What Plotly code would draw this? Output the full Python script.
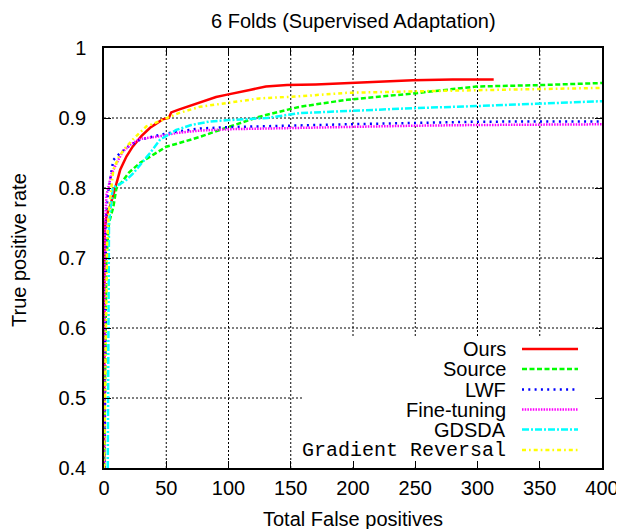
import plotly.graph_objects as go

# ---------------- data ----------------
series_names = ["Ours", "Source", "LWF", "Fine-tuning", "GDSDA", "Gradient Reversal"]
series_colors = ["#ff0000", "#00ff00", "#0000ff", "#ff00ff", "#00ffff", "#ffff00"]

ours_x = [0, 0, 0.5, 2, 5, 9, 13, 18, 23, 30, 37, 42, 47, 52, 54, 60, 70, 80, 90, 98, 110, 117, 130, 147, 170, 195, 220, 248, 280, 313]
ours_y = [0.40, 0.70, 0.74, 0.76, 0.775, 0.80, 0.826, 0.845, 0.859, 0.874, 0.886, 0.892, 0.898, 0.900, 0.908, 0.912, 0.918, 0.924, 0.930, 0.933, 0.937, 0.940, 0.945, 0.947, 0.948, 0.950, 0.952, 0.954, 0.955, 0.955]

source_x = [0, 1, 2, 4, 7.5, 10, 15, 20, 29, 40, 50, 60, 77, 98, 125, 157, 195, 248, 299, 350, 400]
source_y = [0.40, 0.60, 0.70, 0.75, 0.773, 0.80, 0.81, 0.822, 0.836, 0.848, 0.859, 0.864, 0.873, 0.886, 0.902, 0.916, 0.926, 0.935, 0.945, 0.947, 0.950]

lwf_x = [0.5, 1, 1.5, 3, 5, 7.5, 13, 20, 29, 45, 60, 77, 100, 131, 160, 195, 250, 299, 350, 400]
lwf_y = [0.40, 0.65, 0.75, 0.79, 0.81, 0.84, 0.85, 0.86, 0.869, 0.876, 0.881, 0.885, 0.887, 0.888, 0.889, 0.891, 0.893, 0.8947, 0.895, 0.895]

ft_x = [0, 0.5, 1, 2, 4, 6, 10, 15, 22, 29, 45, 60, 77, 100, 131, 160, 195, 250, 300, 350, 400]
ft_y = [0.40, 0.70, 0.754, 0.79, 0.807, 0.82, 0.835, 0.852, 0.863, 0.870, 0.874, 0.879, 0.882, 0.884, 0.885, 0.886, 0.888, 0.889, 0.890, 0.891, 0.891]

gdsda_x = [3, 3.5, 4, 7, 12, 17, 23, 30, 37, 45, 58, 70, 85, 100, 131, 157, 195, 248, 299, 350, 400]
gdsda_y = [0.40, 0.60, 0.75, 0.80, 0.805, 0.81, 0.82, 0.835, 0.85, 0.869, 0.883, 0.89, 0.895, 0.897, 0.90, 0.907, 0.91, 0.914, 0.917, 0.921, 0.924]

gr_x = [0, 1.5, 2.5, 4, 7.5, 12, 17, 23, 29, 34, 40, 47, 60, 77, 100, 125, 157, 195, 248, 300, 350, 400]
gr_y = [0.40, 0.60, 0.72, 0.77, 0.826, 0.845, 0.857, 0.869, 0.880, 0.888, 0.892, 0.897, 0.907, 0.916, 0.922, 0.928, 0.931, 0.936, 0.938, 0.940, 0.941, 0.943]

x_tickvals = [0, 50, 100, 150, 200, 250, 300, 350, 400]
x_ticktext = ["0", "50", "100", "150", "200", "250", "300", "350", "400"]
y_tickvals = [0.4, 0.5, 0.6, 0.7, 0.8, 0.9, 1.0]
y_ticktext = ["0.4", "0.5", "0.6", "0.7", "0.8", "0.9", "1"]

title_text = "6 Folds (Supervised Adaptation)"
x_title = "Total False positives"
y_title = "True positive rate"

# ---------------- styles ----------------
dashes = ["solid", "5px,2.5px", "2px,4.3px", "1.5px,1.2px", "7px,2px,2px,2px", "4px,3px,1.7px,3px"]
fonts = ["Liberation Sans"] * 5 + ["Liberation Mono"]
LW = 2.5
SANS = "Liberation Sans, Arial, Helvetica, sans-serif"
XR = [0, 400]
YR = [0.4, 1.0]

xs = [ours_x, source_x, lwf_x, ft_x, gdsda_x, gr_x]
ys = [ours_y, source_y, lwf_y, ft_y, gdsda_y, gr_y]

fig = go.Figure()
for name, c, d, x, y in zip(series_names, series_colors, dashes, xs, ys):
    fig.add_trace(go.Scatter(x=x, y=y, mode="lines", name=name,
                             line=dict(color=c, width=LW, dash=d),
                             showlegend=False, hoverinfo="skip"))

# The page has an 8px body margin, so the figure is drawn offset by (8, 8).
OFF = 8
W, H = 624 - OFF, 529 - OFF
# plot area in page pixels: x 104..602, y 48..468
PX0, PX1, PY0, PY1 = 104, 602, 48, 468
L, T = PX0 - OFF, PY0 - OFF
R, B = W - (PX1 - OFF), H - (PY1 - OFF)
pw, ph = PX1 - PX0, PY1 - PY0

def px2paper_x(px):
    return (px - PX0) / pw

def px2paper_y(py):
    return (PY1 - py) / ph

def px2data_x(px):
    return XR[0] + px2paper_x(px) * (XR[1] - XR[0])

def px2data_y(py):
    return YR[0] + px2paper_y(py) * (YR[1] - YR[0])

shapes = []
annotations = []

# dotted grid at the tick positions (drawn below the curves)
grid_line = dict(color="#000000", width=1, dash="2px,2px")
for xv in x_tickvals:
    if XR[0] < xv < XR[1]:
        shapes.append(dict(type="line", xref="x", yref="y", layer="below",
                           x0=xv, x1=xv, y0=YR[0], y1=YR[1], line=grid_line))
for yv in y_tickvals:
    if YR[0] < yv < YR[1]:
        shapes.append(dict(type="line", xref="x", yref="y", layer="below",
                           x0=XR[0], x1=XR[1], y0=yv, y1=yv, line=grid_line))

# opaque key box (hides the grid behind the key); same layer as the grid
shapes.append(dict(type="rect", xref="x", yref="y", layer="below",
                   x0=px2data_x(303), x1=px2data_x(601), y0=px2data_y(467), y1=px2data_y(338),
                   fillcolor="white", line=dict(width=0)))

row_y = [349, 369, 389.5, 409.5, 429.5, 450]
for i, name in enumerate(series_names):
    yy = px2paper_y(row_y[i])
    annotations.append(dict(x=px2paper_x(508), y=yy, xref="paper", yref="paper",
                            xanchor="right", yanchor="middle", showarrow=False,
                            text=name, font=dict(family=fonts[i], size=20, color="black")))
    shapes.append(dict(type="line", xref="paper", yref="paper", layer="above",
                       x0=px2paper_x(522), x1=px2paper_x(578), y0=yy, y1=yy,
                       line=dict(color=series_colors[i], width=LW, dash=dashes[i])))

annotations.append(dict(x=0.5, y=px2paper_y(519), xref="paper", yref="paper",
                        xanchor="center", yanchor="middle", showarrow=False,
                        text=x_title, font=dict(family=SANS, size=20, color="black")))
annotations.append(dict(x=px2paper_x(19), y=px2paper_y(250), xref="paper", yref="paper",
                        xanchor="center", yanchor="middle", showarrow=False, textangle=-90,
                        text=y_title, font=dict(family=SANS, size=20, color="black")))
annotations.append(dict(x=0.5, y=px2paper_y(20.5), xref="paper", yref="paper",
                        xanchor="center", yanchor="middle", showarrow=False,
                        text=title_text, font=dict(family=SANS, size=20, color="black")))

axis_common = dict(showline=True, linecolor="black", linewidth=1.5, mirror="ticks",
                   ticks="inside", ticklen=7, tickcolor="black", tickwidth=1.2,
                   showgrid=False, zeroline=False,
                   tickfont=dict(family=SANS, size=20, color="black"))

fig.update_layout(
    width=W, height=H,
    margin=dict(l=L, r=R, t=T, b=B, autoexpand=False),
    paper_bgcolor="white", plot_bgcolor="white",
    xaxis=dict(range=XR, tickvals=x_tickvals, ticktext=x_ticktext,
               ticklabelstandoff=1, **axis_common),
    yaxis=dict(range=YR, tickvals=y_tickvals, ticktext=y_ticktext,
               ticklabelstandoff=12, **axis_common),
    shapes=shapes, annotations=annotations,
    showlegend=False,
)

fig.write_html("out.html")
